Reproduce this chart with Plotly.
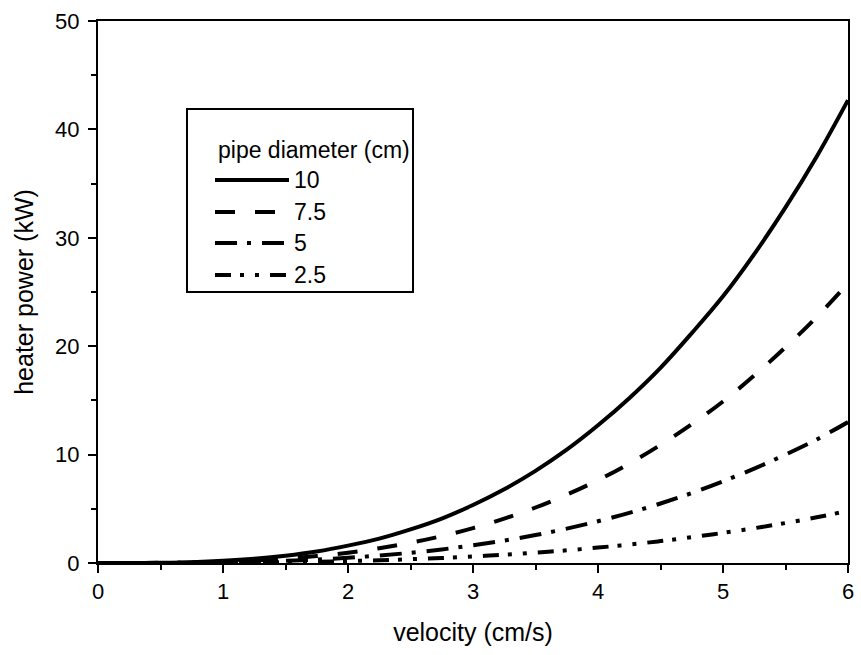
import plotly.graph_objects as go

# ---- data ----
velocity = [0, 0.25, 0.5, 0.75, 1, 1.25, 1.5, 1.75, 2, 2.25, 2.5, 2.75, 3,
            3.25, 3.5, 3.75, 4, 4.25, 4.5, 4.75, 5, 5.25, 5.5, 5.75, 6]
power_10 = [0, 0.003, 0.025, 0.08, 0.2, 0.39, 0.67, 1.06, 1.6, 2.25, 3.1, 4.1, 5.35,
            6.8, 8.5, 10.45, 12.7, 15.2, 18.0, 21.2, 24.6, 28.5, 32.8, 37.5, 42.7]
power_75 = [0, 0.002, 0.015, 0.05, 0.12, 0.23, 0.4, 0.64, 0.95, 1.36, 1.87, 2.48, 3.22,
            4.1, 5.12, 6.3, 7.64, 9.17, 10.9, 12.8, 14.9, 17.3, 19.9, 22.7, 25.8]
power_5 = [0, 0.001, 0.008, 0.025, 0.06, 0.12, 0.2, 0.32, 0.48, 0.69, 0.94, 1.25, 1.63,
           2.07, 2.58, 3.17, 3.85, 4.62, 5.49, 6.45, 7.53, 8.71, 10.0, 11.4, 13.0]
power_25 = [0, 0.0, 0.003, 0.009, 0.022, 0.043, 0.075, 0.12, 0.18, 0.25, 0.35, 0.46, 0.6,
            0.76, 0.95, 1.17, 1.42, 1.7, 2.02, 2.38, 2.78, 3.21, 3.69, 4.22, 4.8]
labels = ["10", "7.5", "5", "2.5"]
legend_title = "pipe diameter (cm)"

series = [power_10, power_75, power_5, power_25]
dashes = ["solid", "20px,20px", "22px,10px,4px,11px", "16px,9px,4px,11px,4px,11px"]

FONT = "Liberation Sans, Arial, sans-serif"
W, H = 861, 655
L, R, T, B = 98, 13, 21, 92
PW, PH = W - L - R, H - T - B

def px(x):
    return (x - L) / PW

def py(y):
    return (H - B - y) / PH

fig = go.Figure()
for ys, lab, d in zip(series, labels, dashes):
    fig.add_trace(go.Scatter(
        x=velocity, y=ys, name=lab, mode="lines",
        line=dict(color="black", width=4, dash=d, shape="spline", smoothing=1),
        showlegend=False,
    ))

axis_common = dict(
    showline=True, linecolor="black", linewidth=2, mirror=True,
    ticks="outside", ticklen=8, tickwidth=2, tickcolor="black",
    showgrid=False, zeroline=False,
    tickfont=dict(family=FONT, size=22, color="black"),
    title_font=dict(family=FONT, size=25, color="black"),
)

fig.update_xaxes(
    range=[0, 6], dtick=1, tick0=0,
    minor=dict(dtick=0.5, ticks="outside", ticklen=5, tickwidth=2, tickcolor="black"),
    title_text="velocity (cm/s)", title_standoff=20,
    **axis_common,
)
fig.update_yaxes(
    range=[0, 50], dtick=10, tick0=0,
    minor=dict(dtick=5, ticks="outside", ticklen=5, tickwidth=2, tickcolor="black"),
    title_text="heater power (kW)", title_standoff=14,
    ticklabelstandoff=4,
    **axis_common,
)

# ---- legend box ----
box = dict(x0=187, y0=109, x1=413, y1=292)
fig.add_shape(type="rect", xref="paper", yref="paper",
              x0=px(box["x0"]), x1=px(box["x1"]), y0=py(box["y1"]), y1=py(box["y0"]),
              line=dict(color="black", width=2), fillcolor="white", layer="above")
fig.add_annotation(xref="paper", yref="paper", x=px(216), y=py(150),
                   text=legend_title, showarrow=False, xanchor="left", yanchor="middle",
                   font=dict(family=FONT, size=23, color="black"))
rows = [180, 212, 243, 275]
for lab, d, yy in zip(labels, dashes, rows):
    fig.add_shape(type="line", xref="paper", yref="paper",
                  x0=px(215), x1=px(289), y0=py(yy), y1=py(yy),
                  line=dict(color="black", width=4, dash=d), layer="above")
    fig.add_annotation(xref="paper", yref="paper", x=px(292), y=py(yy),
                       text=lab, showarrow=False, xanchor="left", yanchor="middle",
                       font=dict(family=FONT, size=23, color="black"))

fig.update_layout(
    width=W, height=H,
    margin=dict(l=L, r=R, t=T, b=B, autoexpand=False),
    paper_bgcolor="white", plot_bgcolor="white",
    showlegend=False,
)

fig.write_html("out.html")
